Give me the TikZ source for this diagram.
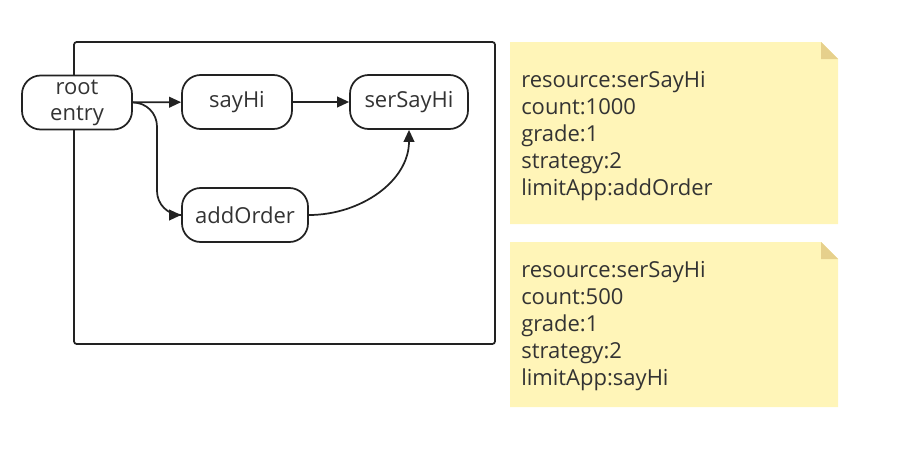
\documentclass[tikz,border=0pt]{standalone}
\usepackage{fontspec}
\setmainfont{Open Sans}
\usetikzlibrary{arrows.meta}

\definecolor{notefill}{HTML}{FFF5B8}
\definecolor{notefold}{HTML}{E6D08C}
\definecolor{txtgray}{HTML}{333333}
\definecolor{linegray}{HTML}{222222}

\tikzset{
	procbox/.style={draw=linegray, line width=1.3pt, rounded corners=14pt, fill=white,
		minimum height=40.5pt, inner sep=0pt, align=center, text=txtgray,
		font=\fontsize{16.5}{19.5}\selectfont},
	arr/.style={-{Triangle[length=9pt,width=8pt]}, line width=1.3pt, draw=linegray},
	notetext/.style={anchor=north west, align=left, inner sep=0pt, text=txtgray,
		font=\fontsize{16.5}{20.25}\selectfont},
}

\begin{document}
\begin{tikzpicture}[x=0.75pt, y=-0.75pt]
	\useasboundingbox (0,0) rectangle (913,464);

	% the frame
	\draw[linegray, line width=1.3pt, rounded corners=2pt] (74,42) rectangle (495,344);

	% the nodes
	\node[procbox, minimum width=82.5pt] (root) at (77,102.5) {root\\entry};
	\node[procbox, minimum width=82.5pt] (sayHi) at (237,102) {sayHi};
	\node[procbox, minimum width=88.5pt] (serSayHi) at (409,102) {serSayHi};
	\node[procbox, minimum width=94.5pt] (addOrder) at (245,215) {addOrder};

	% draw the arrows
	\coordinate (bend) at (157,215);
	\draw[arr] (root) -- (sayHi);
	\draw[arr, rounded corners=18pt] (root.east) -| (bend) -- (addOrder.west);
	\draw[arr] (sayHi) -- (serSayHi);
	\draw[arr] (addOrder.east) to[out=0, in=-90] (serSayHi.south);

	% the notes
	\fill[notefill] (510,42) -- (821,42) -- (838,59) -- (838,224) -- (510,224) -- cycle;
	\fill[notefold] (821,42) -- (838,59) -- (821,59) -- cycle;
	\fill[notefill] (510,242) -- (821,242) -- (838,259) -- (838,407) -- (510,407) -- cycle;
	\fill[notefold] (821,242) -- (838,259) -- (821,259) -- cycle;

	% the texts
	\node[notetext] (rule1) at (521,71) {resource:serSayHi\\count:1000\\grade:1\\strategy:2\\limitApp:addOrder};
	\node[notetext] (rule2) at (521,261) {resource:serSayHi\\count:500\\grade:1\\strategy:2\\limitApp:sayHi};
\end{tikzpicture}
\end{document}
